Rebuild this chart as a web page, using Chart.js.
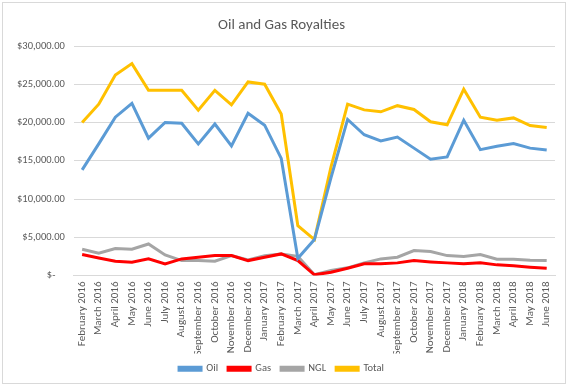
<!DOCTYPE html>
<html>
<head>
<meta charset="utf-8">
<script src="https://cdn.jsdelivr.net/npm/chart.js@4"></script>
<style>
    html, body { margin: 0; padding: 0; background: #fff; }
    #frame {
        position: absolute; left: 2px; top: 2px;
        width: 564px; height: 382px;
        border: 1px solid #d9d9d9; box-sizing: border-box;
    }
    canvas { position: absolute; left: 0; top: 0; }
</style>
</head>
<body>
<div id="frame"></div>
<canvas id="chart" width="570" height="388"></canvas>
<script>
const MONTHS = [
    'February 2016', 'March 2016', 'April 2016', 'May 2016', 'June 2016', 'July 2016',
    'August 2016', 'September 2016', 'October 2016', 'November 2016', 'December 2016',
    'January 2017', 'February 2017', 'March 2017', 'April 2017', 'May 2017', 'June 2017',
    'July 2017', 'August 2017', 'September 2017', 'October 2017', 'November 2017',
    'December 2017', 'January 2018', 'February 2018', 'March 2018', 'April 2018',
    'May 2018', 'June 2018',
];

const OIL = [
    13800, 17200, 20700, 22500, 17950, 20000, 19900, 17200, 19800, 16950, 21200,
    19650, 15300, 2250, 4700, 12800, 20400, 18400, 17600, 18100, 16650, 15200,
    15500, 20300, 16450, 16900, 17250, 16650, 16400,
];
const GAS = [
    2740, 2300, 1870, 1740, 2170, 1520, 2170, 2390, 2600, 2600, 1950,
    2390, 2820, 1950, 90, 430, 950, 1520, 1520, 1650, 1950, 1780,
    1650, 1520, 1650, 1390, 1260, 1085, 950,
];
const NGL = [
    3430, 2910, 3520, 3430, 4120, 2690, 1950, 1950, 1870, 2600, 2040,
    2600, 2820, 2500, 100, 650, 1000, 1650, 2170, 2390, 3260, 3130,
    2600, 2470, 2735, 2130, 2130, 2000, 1950,
];
const TOTAL = [
    20000, 22400, 26200, 27700, 24200, 24200, 24200, 21600, 24200, 22300, 25300,
    25000, 21100, 6500, 4700, 14200, 22400, 21650, 21400, 22200, 21700, 20100,
    19700, 24350, 20700, 20300, 20600, 19600, 19350,
];
const Y_TICKS = [0, 5000, 10000, 15000, 20000, 25000, 30000];

const FONT = "Carlito, Calibri, Lato, sans-serif";
const TEXT = '#595959';
const GRID = '#d9d9d9';

function money(v) {
    if (v === 0) return '$-    ';
    return '$' + v.toLocaleString('en-US', { minimumFractionDigits: 2, maximumFractionDigits: 2 });
}

function line(label, data, color) {
    return {
        label,
        data,
        borderColor: color,
        backgroundColor: color,
        borderWidth: 3,
        pointRadius: 0,
        tension: 0,
        fill: false,
    };
}

new Chart(document.getElementById('chart'), {
    type: 'line',
    data: {
        labels: MONTHS,
        datasets: [
            line('Oil', OIL, '#5b9bd5'),
            line('Gas', GAS, '#ff0000'),
            line('NGL', NGL, '#a5a5a5'),
            line('Total', TOTAL, '#ffc000'),
        ],
    },
    options: {
        responsive: false,
        animation: false,
        layout: { padding: { left: 8, right: 15, top: 16, bottom: 4 } },
        plugins: {
            title: {
                display: true,
                text: 'Oil and Gas Royalties',
                color: TEXT,
                font: { family: FONT, size: 15, weight: 'normal' },
                padding: { top: 0, bottom: 12 },
            },
            legend: {
                position: 'bottom',
                labels: {
                    color: TEXT,
                    font: { family: FONT, size: 10.5 },
                    boxWidth: 22,
                    boxHeight: 3,
                    padding: 10,
                },
            },
            tooltip: { enabled: false },
        },
        scales: {
            x: {
                offset: true,
                grid: { display: false, drawTicks: false },
                border: { color: GRID },
                afterFit: (axis) => { axis.height = 78; },
                ticks: {
                    color: TEXT,
                    font: { family: FONT, size: 11 },
                    minRotation: 90,
                    maxRotation: 90,
                    autoSkip: false,
                    padding: 6,
                },
            },
            y: {
                min: 0,
                max: 30000,
                afterBuildTicks: (axis) => {
                    axis.ticks = Y_TICKS.map((value) => ({ value }));
                },
                grid: { color: GRID, drawTicks: false },
                border: { display: false },
                ticks: {
                    color: TEXT,
                    font: { family: FONT, size: 10.5 },
                    padding: 9,
                    callback: (v) => money(v),
                },
            },
        },
    },
});
</script>
</body>
</html>
